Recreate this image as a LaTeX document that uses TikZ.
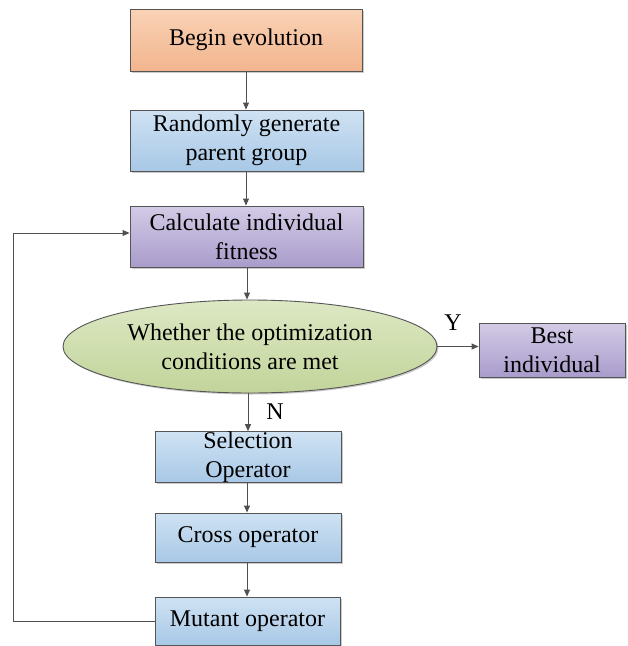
\documentclass[tikz,border=0pt]{standalone}
\usepackage{fontspec}
\setmainfont{Liberation Serif}
\usetikzlibrary{arrows.meta,shapes.geometric,shadows}
\definecolor{bordc}{HTML}{555555}
\definecolor{linec}{HTML}{505050}
\definecolor{orgT}{HTML}{F9D2B6}
\definecolor{orgB}{HTML}{F2B58E}
\definecolor{bluT}{HTML}{CFE2F3}
\definecolor{bluB}{HTML}{A8C8E6}
\definecolor{purT}{HTML}{D3CBE6}
\definecolor{purB}{HTML}{A99CCB}
\definecolor{grnT}{HTML}{DDE8C4}
\definecolor{grnB}{HTML}{C2D49A}
\tikzset{
  basebox/.style={draw=bordc, line width=0.9pt, rectangle, align=center,
    font=\fontsize{24}{29}\selectfont, inner sep=0pt,
    drop shadow={shadow xshift=1.5pt, shadow yshift=-1.5pt, fill=black!35, opacity=0.6}},
  orangebox/.style={basebox, top color=orgT, bottom color=orgB},
  bluebox/.style={basebox, top color=bluT, bottom color=bluB},
  purplebox/.style={basebox, top color=purT, bottom color=purB},
  decision/.style={basebox, ellipse, top color=grnT, bottom color=grnB},
  flow/.style={draw=linec, line width=0.9pt, -{Triangle[length=7pt,width=6pt]}},
  lbl/.style={font=\fontsize{24}{26}\selectfont, inner sep=0pt}
}
\begin{document}
\begin{tikzpicture}[x=1pt,y=-1pt]
\useasboundingbox (0,0) rectangle (628,646);
\node[orangebox, minimum width=232pt, minimum height=62pt] (begin) at (246,40) {Begin evolution};
\node[bluebox, minimum width=233pt, minimum height=61pt] (rand) at (246.5,140.5) {Randomly generate\\parent group};
\node[purplebox, minimum width=233pt, minimum height=61pt] (calc) at (246.5,236.5) {Calculate individual\\fitness};
\node[decision, minimum width=374pt, minimum height=93pt] (cond) at (250,346.5) {Whether the optimization\\conditions are met};
\node[purplebox, minimum width=146pt, minimum height=54pt] (best) at (552,350) {Best\\individual};
\node[bluebox, minimum width=186pt, minimum height=50pt] (sel) at (248,457) {Selection\\Operator};
\node[bluebox, minimum width=186pt, minimum height=49pt] (cross) at (248,537.5) {Cross operator};
\node[bluebox, minimum width=185pt, minimum height=48pt] (mut) at (247.5,621) {Mutant operator};
\coordinate (lb) at (13,621);
\coordinate (lt) at (13,233);
\draw[flow] (begin.south -| 246,0) -- (rand.north -| 246,0);
\draw[flow] (rand.south -| 246,0) -- (calc.north -| 246,0);
\draw[flow] (calc.south -| 247,0) -- (cond.north -| 247,0);
\draw[flow] (cond.east) -- (best.west |- cond.east);
\draw[flow] (cond.south -| 248,0) -- (sel.north -| 248,0);
\draw[flow] (sel.south -| 247,0) -- (cross.north -| 247,0);
\draw[flow] (cross.south -| 247,0) -- (mut.north -| 247,0);
\draw[flow] (mut.west) -- (lb) -- (lt) -- (calc.west |- lt);
\node[lbl] (ylab) at (453,323) {Y};
\node[lbl] (nlab) at (275,412) {N};
\end{tikzpicture}
\end{document}
